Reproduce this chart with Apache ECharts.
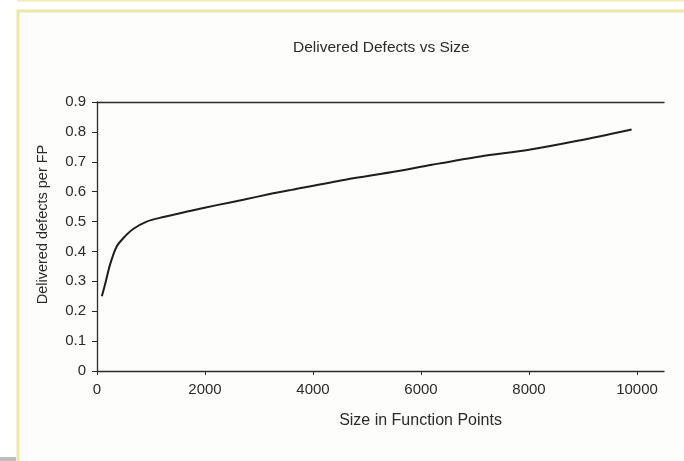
<!DOCTYPE html>
<html>
<head>
<meta charset="utf-8">
<script src="https://cdn.jsdelivr.net/npm/echarts@6/dist/echarts.min.js"></script>
<style>
  html, body { margin: 0; padding: 0; background: #fff; }
  #chart { width: 684px; height: 461px; }
</style>
</head>
<body>
<div id="chart"></div>
<script>
// data
var sizeFP = [90, 150, 240, 360, 490, 670, 920, 1230, 1720, 2220, 2710, 3200, 3600, 4600, 5550, 6200, 7100, 8000, 8900, 9900];
var defectsPerFP = [0.25, 0.29, 0.355, 0.415, 0.445, 0.475, 0.50, 0.515, 0.535, 0.555, 0.573, 0.592, 0.606, 0.64, 0.668, 0.69, 0.718, 0.74, 0.77, 0.808];
var xTicks = [0, 2000, 4000, 6000, 8000, 10000];
var yTicks = [0, 0.1, 0.2, 0.3, 0.4, 0.5, 0.6, 0.7, 0.8, 0.9];

var ink = '#2b2b2b';
var font = 'Liberation Sans';

var points = sizeFP.map(function (x, i) { return [x, defectsPerFP[i]]; });

var option = {
    backgroundColor: '#fff',
    animation: false,
    graphic: [
        // scanned page frame
        { type: 'rect', shape: { x: 17, y: 0, width: 667, height: 1.5 }, style: { fill: '#f1eeb4' }, silent: true },
        { type: 'rect', shape: { x: 18, y: 11, width: 670, height: 460 }, style: { fill: '#fdfdfc', stroke: '#ece8a6', lineWidth: 3 }, silent: true, z: -10 },
        { type: 'rect', shape: { x: 0, y: 457, width: 16, height: 4 }, style: { fill: '#bdbdbd' }, silent: true }
    ],
    title: {
        text: 'Delivered Defects vs Size',
        left: 288,
        top: 35,
        textStyle: { fontFamily: font, fontSize: 15.5, fontWeight: 'normal', color: ink }
    },
    grid: { left: 97, right: 20, top: 102, bottom: 90 },
    xAxis: [{
        type: 'value',
        min: 0,
        max: 10500,
        interval: 2000,
        name: 'Size in Function Points',
        nameLocation: 'middle',
        nameGap: 42,
        nameTextStyle: { fontFamily: font, fontSize: 16, color: ink, padding: [0, 0, 0, 80] },
        axisLine: { lineStyle: { color: ink, width: 1.3 } },
        axisTick: { show: true, inside: false, length: 4, customValues: xTicks, lineStyle: { color: ink } },
        axisLabel: {
            customValues: xTicks,
            margin: 11,
            fontFamily: font,
            fontSize: 15,
            color: ink,
            formatter: function (v) { return String(v); }
        },
        splitLine: { show: false }
    }, {
        type: 'value',
        position: 'top',
        min: 0,
        max: 10500,
        axisLine: { show: true, lineStyle: { color: ink, width: 1.3 } },
        axisTick: { show: false },
        axisLabel: { show: false },
        splitLine: { show: false }
    }],
    yAxis: {
        type: 'value',
        min: 0,
        max: 0.9,
        interval: 0.1,
        name: 'Delivered defects per FP',
        nameLocation: 'middle',
        nameRotate: 90,
        nameGap: 47,
        nameTextStyle: { fontFamily: font, fontSize: 14.5, color: ink, padding: [0, 0, 0, 24] },
        axisLine: { show: true, lineStyle: { color: ink, width: 1.3 } },
        axisTick: { show: true, inside: false, length: 5, lineStyle: { color: ink } },
        axisLabel: {
            margin: 11,
            fontFamily: font,
            fontSize: 15,
            color: ink,
            formatter: function (v) { return v === 0 ? '0' : v.toFixed(1); }
        },
        splitLine: { show: false }
    },
    series: [{
        type: 'line',
        data: points,
        smooth: 0.3,
        showSymbol: false,
        lineStyle: { color: '#1e1e1e', width: 2 }
    }]
};

var myChart = echarts.init(document.getElementById('chart'));
myChart.setOption(option);
</script>
</body>
</html>
